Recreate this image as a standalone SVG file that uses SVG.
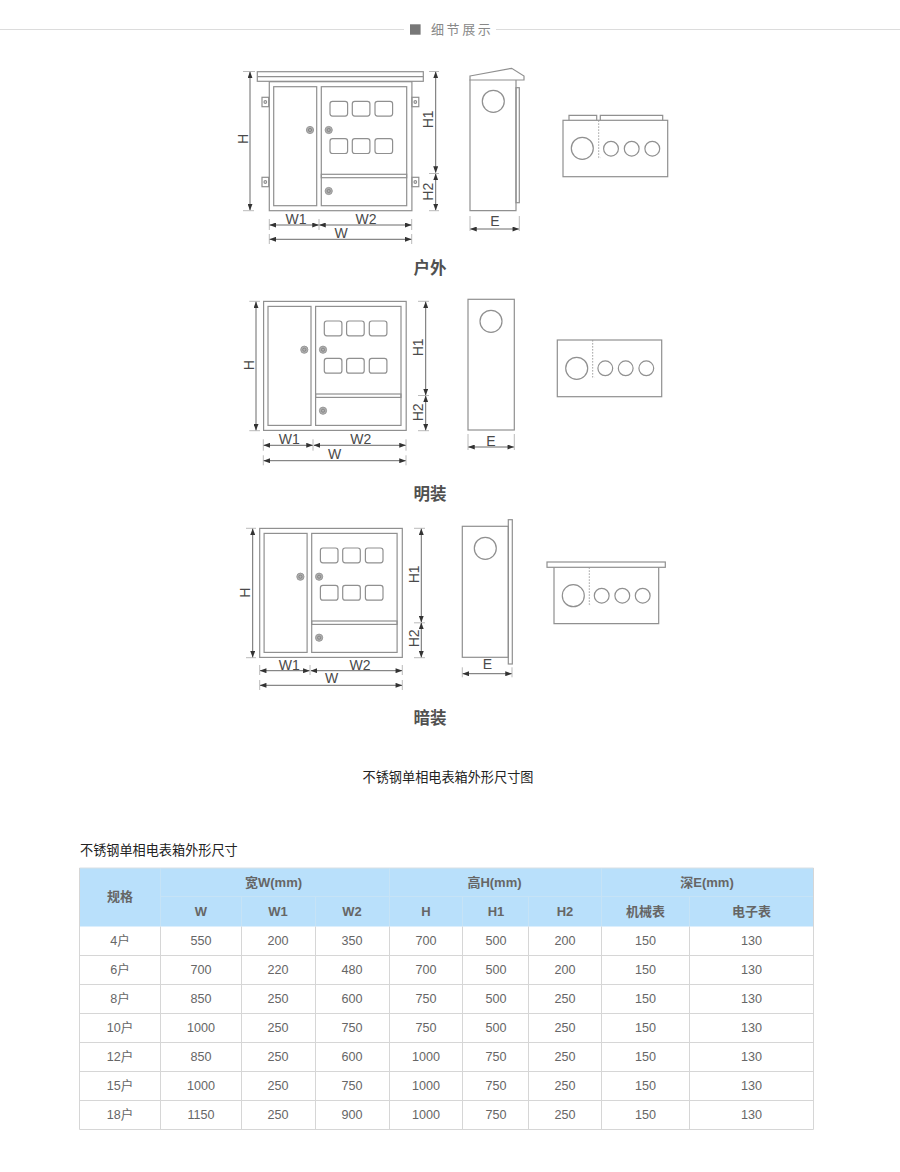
<svg xmlns="http://www.w3.org/2000/svg" width="900" height="1172" viewBox="0 0 900 1172">
<style>
text{font-family:"Liberation Sans","Noto Sans CJK SC",sans-serif}
.o{fill:none;stroke:#909090;stroke-width:1.2}
.w{fill:#fff;stroke:#909090;stroke-width:1.2}
.lock{fill:#b0b0b0;stroke:#999;stroke-width:1}
.lockc{fill:none;stroke:#777;stroke-width:.7}
.ext{stroke:#a8a8a8;stroke-width:.8;fill:none}
.dim{stroke:#444;stroke-width:.8;fill:none;marker-start:url(#a);marker-end:url(#a)}
.dash{stroke:#999;stroke-width:.9;stroke-dasharray:1.6 1.4;fill:none}
.d{font-size:14px;fill:#4a4a4a;text-anchor:middle}
.tt{font-size:16.5px;font-weight:bold;fill:#505050;text-anchor:middle;font-family:"Noto Sans CJK SC",sans-serif}
.cap{font-size:13.15px;fill:#222;font-family:"Noto Sans CJK SC",sans-serif}
.th{font-size:13px;font-weight:bold;fill:#666;text-anchor:middle}
.td{font-size:12.6px;fill:#666;text-anchor:middle}
.hb{stroke:#c6e3f6;stroke-width:1;fill:none}
.bb{stroke:#d6d6d6;stroke-width:1;fill:none}
</style>
<defs>
<marker id="a" viewBox="0 0 8 6" refX="7.5" refY="3" markerWidth="7" markerHeight="5" markerUnits="userSpaceOnUse" orient="auto-start-reverse"><path d="M0 0L8 3L0 6Z" fill="#333"/></marker>
<g id="panel">
<rect class="o" x="269.3" y="81.7" width="142.6" height="129"/>
<rect class="o" x="273.7" y="86.7" width="43" height="119"/>
<rect class="o" x="321.3" y="86.7" width="85.4" height="119"/>
<rect class="o" x="321.3" y="174.3" width="85.4" height="3.4"/>
<g class="o">
<rect x="330" y="101.3" width="17.6" height="14.8" rx="2.5"/><rect x="352.3" y="101.3" width="17.6" height="14.8" rx="2.5"/><rect x="375" y="101.3" width="17.6" height="14.8" rx="2.5"/>
<rect x="330" y="138.7" width="17.6" height="14.8" rx="2.5"/><rect x="352.3" y="138.7" width="17.6" height="14.8" rx="2.5"/><rect x="375" y="138.7" width="17.6" height="14.8" rx="2.5"/>
</g>
<circle class="lock" cx="310" cy="130" r="3.6"/><circle class="lockc" cx="310" cy="130" r="1.6"/>
<circle class="lock" cx="328.7" cy="130" r="3.6"/><circle class="lockc" cx="328.7" cy="130" r="1.6"/>
<circle class="lock" cx="328.7" cy="191" r="3.6"/><circle class="lockc" cx="328.7" cy="191" r="1.6"/>
</g>
<circle id="hole" class="o" r="7.4"/>
<circle id="big" class="o" r="11"/>
</defs>
<g id="heading">
<path d="M0 29.5H404M496 29.5H900" stroke="#dcdcdc" fill="none"/>
<rect x="410" y="24.3" width="10.6" height="10.4" fill="#777"/>
<text x="431" y="34" font-size="13" letter-spacing="2.6" fill="#888" style="font-family:'Noto Sans CJK SC',sans-serif">细节展示</text>
</g>
<g id="outdoor-front">
<rect class="o" x="257.3" y="71.7" width="166" height="9.6"/>
<path class="o" d="M257.3 76.7H423.3"/>
<use href="#panel"/>
<g class="o"><rect x="262" y="97.3" width="6.7" height="9.4"/><rect x="262" y="177.3" width="6.7" height="9.4"/><rect x="411.9" y="97.3" width="6.9" height="9.4"/><rect x="411.9" y="177.3" width="6.9" height="9.4"/></g>
<g class="o"><circle cx="265.3" cy="102" r="1.3"/><circle cx="265.3" cy="182" r="1.3"/><circle cx="415.3" cy="102" r="1.3"/><circle cx="415.3" cy="182" r="1.3"/></g>
<path class="ext" d="M243 71.5H255M243 210.7H254M429 71.5H439M429 173.5H439M429 210.7H439M269.3 219V230M319 219V230M411.7 219V230M269.3 234V244M411.7 234V244"/>
<path class="dim" d="M250 72V210"/><path class="dim" d="M435.7 72V172.5"/><path class="dim" d="M435.7 174V210"/>
<path class="dim" d="M269.8 225H318.5"/><path class="dim" d="M319.5 225H411.2"/><path class="dim" d="M269.8 239.3H411.2"/>
<text class="d" transform="translate(248 139) rotate(-90)">H</text>
<text class="d" transform="translate(433.3 119.3) rotate(-90)">H1</text>
<text class="d" transform="translate(433.3 191.7) rotate(-90)">H2</text>
<text class="d" x="296" y="224">W1</text><text class="d" x="366" y="224">W2</text><text class="d" x="341" y="237.5">W</text>
<text class="tt" x="430" y="274">户外</text>
</g>
<g id="outdoor-side">
<path class="o" d="M470 79.5V210.7H516V79.5"/>
<path class="w" d="M470 76L511.7 68.3L524 76V80H470Z"/>
<rect class="o" x="516" y="87.7" width="3.3" height="115"/>
<use href="#big" x="493.3" y="101.3"/>
<path class="ext" d="M470 216V231M519.3 216V231"/>
<path class="dim" d="M470.5 229H518.8"/>
<text class="d" x="495" y="225.5">E</text>
</g>
<g id="outdoor-bottom">
<rect class="o" x="563" y="120.3" width="104.7" height="56.4"/>
<path class="o" d="M569 120.3V115.3H596.7V120.3M600.3 120.3V115.3H662.7V120.3"/>
<path class="dash" d="M598.7 120.3V157.7H600.5"/>
<use href="#big" x="582.3" y="148.3"/><use href="#hole" x="611" y="148.7"/><use href="#hole" x="631.7" y="148.7"/><use href="#hole" x="652.3" y="148.7"/>
</g>
<g id="surface-front">
<use href="#panel" transform="translate(-5.7 219.7)"/>
<path class="ext" d="M249.3 301.3H260M249.3 430.7H260M418 301.3H429M418 395.5H429M418 430.7H429M263.3 439.3V450.7M313 439.3V450.7M406 439.3V450.7M263.3 455.3V465.3M406 455.3V465.3"/>
<path class="dim" d="M256 301.8V430.2"/><path class="dim" d="M425.7 301.8V395"/><path class="dim" d="M425.7 396V430.2"/>
<path class="dim" d="M263.8 445.3H312.5"/><path class="dim" d="M314 445.3H405.5"/><path class="dim" d="M263.8 460.7H405.5"/>
<text class="d" transform="translate(254 365.3) rotate(-90)">H</text>
<text class="d" transform="translate(423.2 347.3) rotate(-90)">H1</text>
<text class="d" transform="translate(423.2 412.3) rotate(-90)">H2</text>
<text class="d" x="289.3" y="444">W1</text><text class="d" x="360.7" y="444">W2</text><text class="d" x="334.7" y="458.7">W</text>
<text class="tt" x="430" y="500">明装</text>
</g>
<g id="surface-side">
<rect class="o" x="468" y="299.3" width="46.3" height="130.7"/>
<use href="#big" x="491" y="321.3"/>
<path class="ext" d="M468 434V450M514.3 434V450"/>
<path class="dim" d="M468.5 447H513.8"/>
<text class="d" x="491" y="446">E</text>
</g>
<g id="surface-bottom">
<rect class="o" x="557.3" y="340" width="104.4" height="56.7"/>
<path class="dash" d="M592.7 340V377.3H594.5"/>
<use href="#big" x="576.7" y="368.3"/><use href="#hole" x="605.3" y="368.3"/><use href="#hole" x="625.7" y="368.3"/><use href="#hole" x="646.3" y="368.3"/>
</g>
<g id="flush-front">
<use href="#panel" transform="translate(-9.6 446.7)"/>
<path class="ext" d="M246 528.3H256M246 657.7H256M414 528.3H425M414 622.8H425M414 657.7H425M259.7 665V675M310 665V675M402.3 665V675M259.7 680V690M402.3 680V690"/>
<path class="dim" d="M252.7 528.8V657.2"/><path class="dim" d="M421.3 528.8V622"/><path class="dim" d="M421.3 623V657.2"/>
<path class="dim" d="M260.2 670.7H309.3"/><path class="dim" d="M311 670.7H401.8"/><path class="dim" d="M260.2 685.3H401.8"/>
<text class="d" transform="translate(250 592.7) rotate(-90)">H</text>
<text class="d" transform="translate(419 574.3) rotate(-90)">H1</text>
<text class="d" transform="translate(419 638.3) rotate(-90)">H2</text>
<text class="d" x="289.3" y="669.5">W1</text><text class="d" x="360" y="669.5">W2</text><text class="d" x="331.7" y="683">W</text>
<text class="tt" x="430" y="724">暗装</text>
</g>
<g id="flush-side">
<rect class="o" x="462.3" y="526.3" width="46" height="131"/>
<rect class="o" x="508.3" y="519.7" width="4" height="144.3"/>
<use href="#big" x="485.3" y="548.3"/>
<path class="ext" d="M462.3 667.3V677.3M512 667.3V677.3"/>
<path class="dim" d="M462.8 673.7H511.5"/>
<text class="d" x="487.3" y="669">E</text>
</g>
<g id="flush-bottom">
<rect class="o" x="547" y="562" width="118.3" height="5.3"/>
<path class="o" d="M554 567.3V623.7H658.7V567.3"/>
<path class="dash" d="M589.3 567.3V604.7H591"/>
<use href="#big" x="573.3" y="595.7"/><use href="#hole" x="601.7" y="595.7"/><use href="#hole" x="622.3" y="595.7"/><use href="#hole" x="642.7" y="595.7"/>
</g>
<text id="figure-caption" class="cap" x="448" y="782" text-anchor="middle">不锈钢单相电表箱外形尺寸图</text>
<text id="table-caption" class="cap" x="80" y="855">不锈钢单相电表箱外形尺寸</text>
<g id="table">
<rect x="79.5" y="868" width="734" height="58.5" fill="#b9e0fb"/>
<path d="M79.5 868H813.5" stroke="#d8dfe4"/>
<path class="hb" d="M160.5 896.5H813.5M160.5 868V926M241.5 896.5V926M315.5 896.5V926M389.5 868V926M462.5 896.5V926M528.5 896.5V926M601.5 868V926M689.5 896.5V926"/>
<path class="bb" d="M79.5 868V1129.5M813.5 868V1129.5M79.5 955.5H813.5M79.5 984.5H813.5M79.5 1013.5H813.5M79.5 1042.5H813.5M79.5 1071.5H813.5M79.5 1100.5H813.5M79.5 1129.5H813.5M160.5 926.5V1129.5M241.5 926.5V1129.5M315.5 926.5V1129.5M389.5 926.5V1129.5M462.5 926.5V1129.5M528.5 926.5V1129.5M601.5 926.5V1129.5M689.5 926.5V1129.5"/>
<text class="th" x="120" y="901">规格</text><text class="th" x="273.5" y="887">宽W(mm)</text><text class="th" x="494.5" y="887">高H(mm)</text><text class="th" x="707" y="887">深E(mm)</text>
<text class="th" x="201" y="916">W</text><text class="th" x="278" y="916">W1</text><text class="th" x="352" y="916">W2</text><text class="th" x="426" y="916">H</text><text class="th" x="496" y="916">H1</text><text class="th" x="565" y="916">H2</text><text class="th" x="645.5" y="916">机械表</text><text class="th" x="751.5" y="916">电子表</text>
<g><text class="td" x="120" y="945">4户</text><text class="td" x="201" y="945">550</text><text class="td" x="278" y="945">200</text><text class="td" x="352" y="945">350</text><text class="td" x="426" y="945">700</text><text class="td" x="496" y="945">500</text><text class="td" x="565" y="945">200</text><text class="td" x="645.5" y="945">150</text><text class="td" x="751.5" y="945">130</text></g>
<g><text class="td" x="120" y="974">6户</text><text class="td" x="201" y="974">700</text><text class="td" x="278" y="974">220</text><text class="td" x="352" y="974">480</text><text class="td" x="426" y="974">700</text><text class="td" x="496" y="974">500</text><text class="td" x="565" y="974">200</text><text class="td" x="645.5" y="974">150</text><text class="td" x="751.5" y="974">130</text></g>
<g><text class="td" x="120" y="1003">8户</text><text class="td" x="201" y="1003">850</text><text class="td" x="278" y="1003">250</text><text class="td" x="352" y="1003">600</text><text class="td" x="426" y="1003">750</text><text class="td" x="496" y="1003">500</text><text class="td" x="565" y="1003">250</text><text class="td" x="645.5" y="1003">150</text><text class="td" x="751.5" y="1003">130</text></g>
<g><text class="td" x="120" y="1032">10户</text><text class="td" x="201" y="1032">1000</text><text class="td" x="278" y="1032">250</text><text class="td" x="352" y="1032">750</text><text class="td" x="426" y="1032">750</text><text class="td" x="496" y="1032">500</text><text class="td" x="565" y="1032">250</text><text class="td" x="645.5" y="1032">150</text><text class="td" x="751.5" y="1032">130</text></g>
<g><text class="td" x="120" y="1061">12户</text><text class="td" x="201" y="1061">850</text><text class="td" x="278" y="1061">250</text><text class="td" x="352" y="1061">600</text><text class="td" x="426" y="1061">1000</text><text class="td" x="496" y="1061">750</text><text class="td" x="565" y="1061">250</text><text class="td" x="645.5" y="1061">150</text><text class="td" x="751.5" y="1061">130</text></g>
<g><text class="td" x="120" y="1090">15户</text><text class="td" x="201" y="1090">1000</text><text class="td" x="278" y="1090">250</text><text class="td" x="352" y="1090">750</text><text class="td" x="426" y="1090">1000</text><text class="td" x="496" y="1090">750</text><text class="td" x="565" y="1090">250</text><text class="td" x="645.5" y="1090">150</text><text class="td" x="751.5" y="1090">130</text></g>
<g><text class="td" x="120" y="1119">18户</text><text class="td" x="201" y="1119">1150</text><text class="td" x="278" y="1119">250</text><text class="td" x="352" y="1119">900</text><text class="td" x="426" y="1119">1000</text><text class="td" x="496" y="1119">750</text><text class="td" x="565" y="1119">250</text><text class="td" x="645.5" y="1119">150</text><text class="td" x="751.5" y="1119">130</text></g>
</g>
</svg>
